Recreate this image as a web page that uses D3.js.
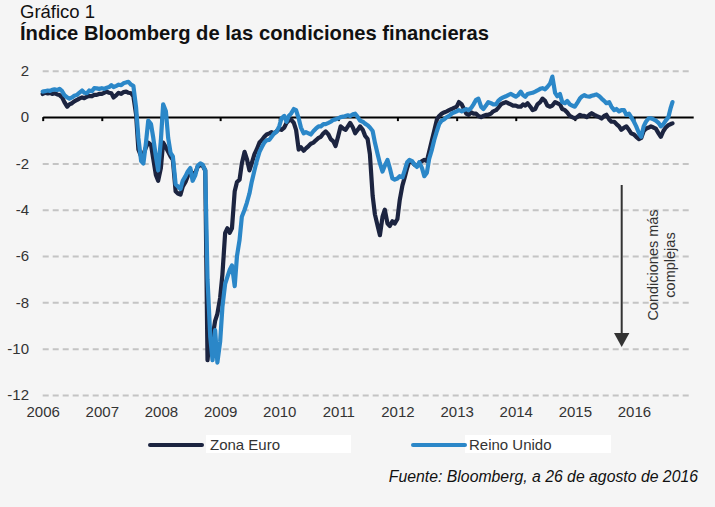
<!DOCTYPE html>
<html><head><meta charset="utf-8">
<script src="https://cdn.jsdelivr.net/npm/d3@7"></script>
<style>
body{margin:0;background:#f5f5f5;}
svg{display:block;font-family:"Liberation Sans",Arial,sans-serif;}
</style></head>
<body>
<svg id="chart" width="715" height="507"></svg>
<script>
// ---------- data ----------
const seriesNames = ["Zona Euro", "Reino Unido"];
const yTicks = [2, 0, -2, -4, -6, -8, -10, -12];
const yearLabels = ["2006","2007","2008","2009","2010","2011","2012","2013","2014","2015","2016"];

const dates = [
"2006-01-01","2006-01-15","2006-02-01","2006-02-15","2006-03-01","2006-03-15","2006-04-01","2006-04-15","2006-05-01","2006-05-15","2006-06-01","2006-06-15","2006-07-01","2006-07-15","2006-08-01","2006-08-15","2006-09-01","2006-09-15","2006-10-01","2006-10-15","2006-11-01","2006-11-15","2006-12-01","2006-12-15",
"2007-01-01","2007-01-15","2007-02-01","2007-02-15","2007-03-01","2007-03-15","2007-04-01","2007-04-15","2007-05-01","2007-05-15","2007-06-01","2007-06-15","2007-07-01","2007-07-15","2007-08-01","2007-08-15","2007-09-01","2007-09-15","2007-10-01","2007-10-15","2007-11-01","2007-11-15","2007-12-01","2007-12-15",
"2008-01-01","2008-01-15","2008-02-01","2008-02-15","2008-03-01","2008-03-15","2008-04-01","2008-04-15","2008-05-01","2008-05-15","2008-06-01","2008-06-15","2008-07-01","2008-07-15","2008-08-01","2008-08-15","2008-09-01","2008-09-15","2008-10-01","2008-10-15","2008-11-01","2008-11-15","2008-12-01","2008-12-15",
"2009-01-01","2009-01-15","2009-02-01","2009-02-15","2009-03-01","2009-03-15","2009-04-01","2009-04-15","2009-05-01","2009-05-15","2009-06-01","2009-06-15","2009-07-01","2009-07-15","2009-08-01","2009-08-15","2009-09-01","2009-09-15","2009-10-01","2009-10-15","2009-11-01","2009-11-15","2009-12-01","2009-12-15",
"2010-01-01","2010-01-15","2010-02-01","2010-02-15","2010-03-01","2010-03-15","2010-04-01","2010-04-15","2010-05-01","2010-05-15","2010-06-01","2010-06-15","2010-07-01","2010-07-15","2010-08-01","2010-08-15","2010-09-01","2010-09-15","2010-10-01","2010-10-15","2010-11-01","2010-11-15","2010-12-01","2010-12-15",
"2011-01-01","2011-01-15","2011-02-01","2011-02-15","2011-03-01","2011-03-15","2011-04-01","2011-04-15","2011-05-01","2011-05-15","2011-06-01","2011-06-15","2011-07-01","2011-07-15","2011-08-01","2011-08-15","2011-09-01","2011-09-15","2011-10-01","2011-10-15","2011-11-01","2011-11-15","2011-12-01","2011-12-15",
"2012-01-01","2012-01-15","2012-02-01","2012-02-15","2012-03-01","2012-03-15","2012-04-01","2012-04-15","2012-05-01","2012-05-15","2012-06-01","2012-06-15","2012-07-01","2012-07-15","2012-08-01","2012-08-15","2012-09-01","2012-09-15","2012-10-01","2012-10-15","2012-11-01","2012-11-15","2012-12-01","2012-12-15",
"2013-01-01","2013-01-15","2013-02-01","2013-02-15","2013-03-01","2013-03-15","2013-04-01","2013-04-15","2013-05-01","2013-05-15","2013-06-01","2013-06-15","2013-07-01","2013-07-15","2013-08-01","2013-08-15","2013-09-01","2013-09-15","2013-10-01","2013-10-15","2013-11-01","2013-11-15","2013-12-01","2013-12-15",
"2014-01-01","2014-01-15","2014-02-01","2014-02-15","2014-03-01","2014-03-15","2014-04-01","2014-04-15","2014-05-01","2014-05-15","2014-06-01","2014-06-15","2014-07-01","2014-07-15","2014-08-01","2014-08-15","2014-09-01","2014-09-15","2014-10-01","2014-10-15","2014-11-01","2014-11-15","2014-12-01","2014-12-15",
"2015-01-01","2015-01-15","2015-02-01","2015-02-15","2015-03-01","2015-03-15","2015-04-01","2015-04-15","2015-05-01","2015-05-15","2015-06-01","2015-06-15","2015-07-01","2015-07-15","2015-08-01","2015-08-15","2015-09-01","2015-09-15","2015-10-01","2015-10-15","2015-11-01","2015-11-15","2015-12-01","2015-12-15",
"2016-01-01","2016-01-15","2016-02-01","2016-02-15","2016-03-01","2016-03-15","2016-04-01","2016-04-15","2016-05-01","2016-05-15","2016-06-01","2016-06-15","2016-07-01","2016-07-15","2016-08-01","2016-08-15","2016-08-26"
];

const zonaEuro = [
1.00,1.05,1.02,1.05,1.00,1.03,0.98,0.95,0.85,0.65,0.45,0.55,0.60,0.68,0.74,0.80,0.85,0.82,0.88,0.92,0.90,0.96,0.96,1.00,
1.00,1.05,1.10,1.05,1.03,0.85,0.95,1.05,1.00,1.08,1.10,1.05,1.03,0.90,0.10,-1.40,-1.70,-1.60,-1.30,-1.10,-1.20,-1.80,-2.50,-2.75,
-2.20,-1.10,-1.30,-1.50,-1.70,-1.85,-3.20,-3.30,-3.35,-3.00,-2.80,-2.55,-2.30,-2.45,-2.40,-2.15,-2.05,-2.10,-2.30,-10.50,-9.20,-9.50,-8.80,-8.50,
-7.80,-6.80,-5.00,-4.80,-5.00,-4.80,-3.20,-2.80,-2.70,-2.00,-1.50,-1.80,-2.30,-2.00,-1.60,-1.40,-1.10,-1.00,-0.85,-0.75,-0.70,-0.65,-0.70,-0.62,
-0.50,-0.55,-0.45,-0.25,-0.15,-0.10,-0.25,-0.55,-1.40,-1.30,-1.45,-1.35,-1.25,-1.15,-1.10,-1.00,-0.90,-0.85,-0.70,-0.62,-0.75,-0.95,-1.05,-1.25,
-0.80,-0.40,-0.50,-0.55,-0.40,-0.25,-0.45,-0.70,-0.55,-0.40,-0.55,-0.80,-0.95,-1.60,-3.40,-4.20,-4.70,-5.10,-4.30,-4.00,-4.60,-4.70,-4.50,-4.60,
-4.40,-3.60,-2.95,-2.60,-2.20,-1.90,-1.95,-2.05,-2.10,-2.00,-1.90,-1.85,-1.90,-1.50,-1.00,-0.60,-0.10,0.05,0.15,0.20,0.25,0.30,0.35,0.40,
0.45,0.65,0.55,0.35,0.15,0.10,0.20,0.15,0.15,0.05,0.00,0.05,0.10,0.10,0.15,0.25,0.30,0.40,0.55,0.60,0.65,0.60,0.55,0.50,
0.50,0.45,0.45,0.55,0.50,0.60,0.45,0.30,0.35,0.55,0.65,0.80,0.70,0.50,0.45,0.50,0.65,0.60,0.55,0.35,0.30,0.20,0.05,0.00,
-0.05,0.00,0.10,0.05,0.05,0.00,0.10,0.17,0.10,0.05,0.00,-0.06,0.05,0.10,-0.10,-0.20,-0.20,-0.30,-0.40,-0.55,-0.45,-0.40,-0.55,-0.70,
-0.75,-0.85,-0.95,-0.90,-0.60,-0.50,-0.45,-0.40,-0.45,-0.50,-0.70,-0.85,-0.60,-0.45,-0.35,-0.30,-0.27
];

const reinoUnido = [
1.10,1.12,1.15,1.13,1.18,1.20,1.17,1.22,1.12,0.95,0.85,0.80,0.85,0.92,0.96,1.05,1.15,1.05,1.03,1.15,1.12,1.25,1.24,1.22,
1.25,1.22,1.27,1.30,1.38,1.30,1.35,1.40,1.38,1.46,1.50,1.52,1.40,1.35,0.40,-0.90,-1.90,-2.00,-1.10,-0.15,-0.30,-0.90,-1.70,-2.30,
-1.00,0.55,0.25,-0.90,-1.55,-1.70,-2.90,-3.00,-3.10,-2.75,-2.55,-2.35,-2.20,-2.75,-2.50,-2.10,-2.00,-2.05,-2.30,-7.00,-9.50,-10.50,-9.20,-10.60,
-9.70,-8.20,-7.20,-6.90,-6.60,-6.40,-7.30,-6.00,-5.30,-4.30,-4.00,-3.70,-3.30,-2.80,-2.30,-1.90,-1.50,-1.30,-1.10,-1.00,-0.98,-0.85,-0.70,-0.63,
-0.40,-0.05,0.05,-0.20,0.05,0.15,0.35,0.30,-0.05,-0.45,-0.70,-0.65,-0.70,-0.75,-0.60,-0.50,-0.40,-0.40,-0.30,-0.30,-0.25,-0.20,-0.12,-0.10,
-0.05,0.00,0.02,0.05,0.08,0.05,0.12,0.15,0.00,-0.15,-0.20,-0.28,-0.35,-0.45,-0.60,-1.10,-1.60,-2.00,-2.35,-2.10,-1.85,-2.20,-2.65,-2.70,
-2.65,-2.55,-2.60,-2.30,-1.95,-1.85,-1.90,-2.05,-2.15,-1.95,-2.20,-2.55,-2.40,-1.80,-1.40,-1.00,-0.60,-0.30,-0.15,-0.10,0.00,0.05,0.15,0.20,
0.25,0.30,0.25,0.30,0.35,0.30,0.40,0.55,0.75,0.80,0.45,0.35,0.50,0.65,0.60,0.55,0.55,0.70,0.80,0.85,0.90,0.95,1.00,0.95,
0.88,0.95,1.10,0.95,0.88,1.00,1.03,1.05,1.10,1.15,1.22,1.25,1.20,1.30,1.45,1.75,1.05,0.90,1.00,0.65,0.60,0.70,0.55,0.50,
0.45,0.60,0.80,0.90,0.95,0.90,0.88,0.92,0.95,0.98,0.90,0.80,0.70,0.60,0.65,0.45,0.30,0.35,0.25,0.30,0.30,0.10,0.15,0.00,
-0.20,-0.40,-0.70,-0.85,-0.40,-0.20,-0.05,-0.05,-0.10,-0.15,-0.25,-0.40,-0.30,-0.15,0.00,0.40,0.65
];

// ---------- chart ----------
const svg = d3.select("#chart");
const parse = d3.utcParse("%Y-%m-%d");
const parsedDates = dates.map(parse);
const colors = {"Zona Euro": "#1c2440", "Reino Unido": "#2b87c8"};
const font = '"Liberation Sans", Arial, sans-serif';
const textColor = "#333333";

svg.append("rect").attr("width", 715).attr("height", 507).attr("fill", "#f5f5f5");

const x = d3.scaleUtc()
  .domain([parse("2006-01-01"), parse("2017-01-01")])
  .range([42.7, 693.2]);
const y = d3.scaleLinear().domain([-12, 2]).range([395, 70.8]);

// titles
svg.append("text").attr("x", 20).attr("y", 17.5)
  .attr("font-size", 18.5).attr("fill", "#111").text("Gráfico 1");
svg.append("text").attr("x", 20).attr("y", 39.5)
  .attr("font-size", 20.2).attr("font-weight", "bold").attr("fill", "#111")
  .text("Índice Bloomberg de las condiciones financieras");

// gridlines
const grid = svg.append("g").attr("transform", "translate(42.7,0)")
  .call(d3.axisLeft(y).tickValues(yTicks.filter(d => d !== 0)).tickSize(-647.5).tickFormat(""));
grid.select(".domain").remove();
grid.selectAll("line").attr("stroke", "#c4c4c4").attr("stroke-width", 2).attr("stroke-dasharray", "6,4");

// y labels
const yAxis = svg.append("g").attr("transform", "translate(30,0)")
  .call(d3.axisLeft(y).tickValues(yTicks).tickSize(0).tickPadding(1).tickFormat(d => String(d)));
yAxis.select(".domain").remove();
yAxis.selectAll("text").attr("font-size", 15).attr("font-family", font).attr("fill", textColor);

// zero axis with ticks
const yearDates = yearLabels.map(s => parse(s + "-01-01"));
const zeroAxis = svg.append("g").attr("transform", `translate(0,${y(0)})`)
  .call(d3.axisBottom(x).tickValues(yearDates).tickSize(4).tickSizeOuter(0).tickFormat(""));
zeroAxis.select(".domain").attr("stroke", "#000").attr("stroke-width", 2);
zeroAxis.selectAll(".tick line").attr("stroke", "#000").attr("stroke-width", 2);

// x labels
const xAxis = svg.append("g").attr("transform", "translate(0,400)")
  .call(d3.axisBottom(x).tickValues(yearDates).tickSize(0).tickPadding(6)
    .tickFormat((d, i) => yearLabels[i]));
xAxis.select(".domain").remove();
xAxis.selectAll("text").attr("font-size", 15).attr("font-family", font).attr("fill", textColor);

// lines
const seriesData = {"Zona Euro": zonaEuro, "Reino Unido": reinoUnido};
const line = d3.line().x(d => x(d[0])).y(d => y(d[1]));
seriesNames.forEach(name => {
  const pts = parsedDates.map((d, i) => [d, seriesData[name][i]]);
  svg.append("path").datum(pts)
    .attr("d", line).attr("fill", "none")
    .attr("stroke", colors[name]).attr("stroke-width", 4.2)
    .attr("stroke-linejoin", "round").attr("stroke-linecap", "round");
});

// annotation arrow
svg.append("line").attr("x1", 621.7).attr("x2", 621.7).attr("y1", 185).attr("y2", 335)
  .attr("stroke", "#333").attr("stroke-width", 2);
svg.append("path").attr("d", "M614,333 L629.4,333 L621.7,347 Z").attr("fill", "#333");
const ann = svg.append("text").attr("transform", "translate(658,265) rotate(-90)")
  .attr("text-anchor", "middle").attr("font-size", 14.5).attr("fill", textColor);
ann.append("tspan").attr("x", 0).attr("dy", 0).text("Condiciones más");
ann.append("tspan").attr("x", 0).attr("dy", 17).text("complejas");

// legend
const legendPos = [{lx: 150, bx: 206, bw: 145}, {lx: 413, bx: 465, bw: 146}];
seriesNames.forEach((name, i) => {
  const p = legendPos[i];
  svg.append("rect").attr("x", p.bx).attr("y", 435).attr("width", p.bw).attr("height", 18).attr("fill", "#ffffff");
  svg.append("line").attr("x1", p.lx).attr("x2", p.lx + 52).attr("y1", 445).attr("y2", 445)
    .attr("stroke", colors[name]).attr("stroke-width", 4).attr("stroke-linecap", "round");
  svg.append("text").attr("x", p.bx + 4).attr("y", 450).attr("font-size", 15).attr("fill", textColor).text(name);
});

// source
svg.append("text").attr("x", 698).attr("y", 482).attr("text-anchor", "end")
  .attr("font-size", 15.8).attr("font-style", "italic").attr("fill", "#111")
  .text("Fuente: Bloomberg, a 26 de agosto de 2016");
</script>
</body></html>
